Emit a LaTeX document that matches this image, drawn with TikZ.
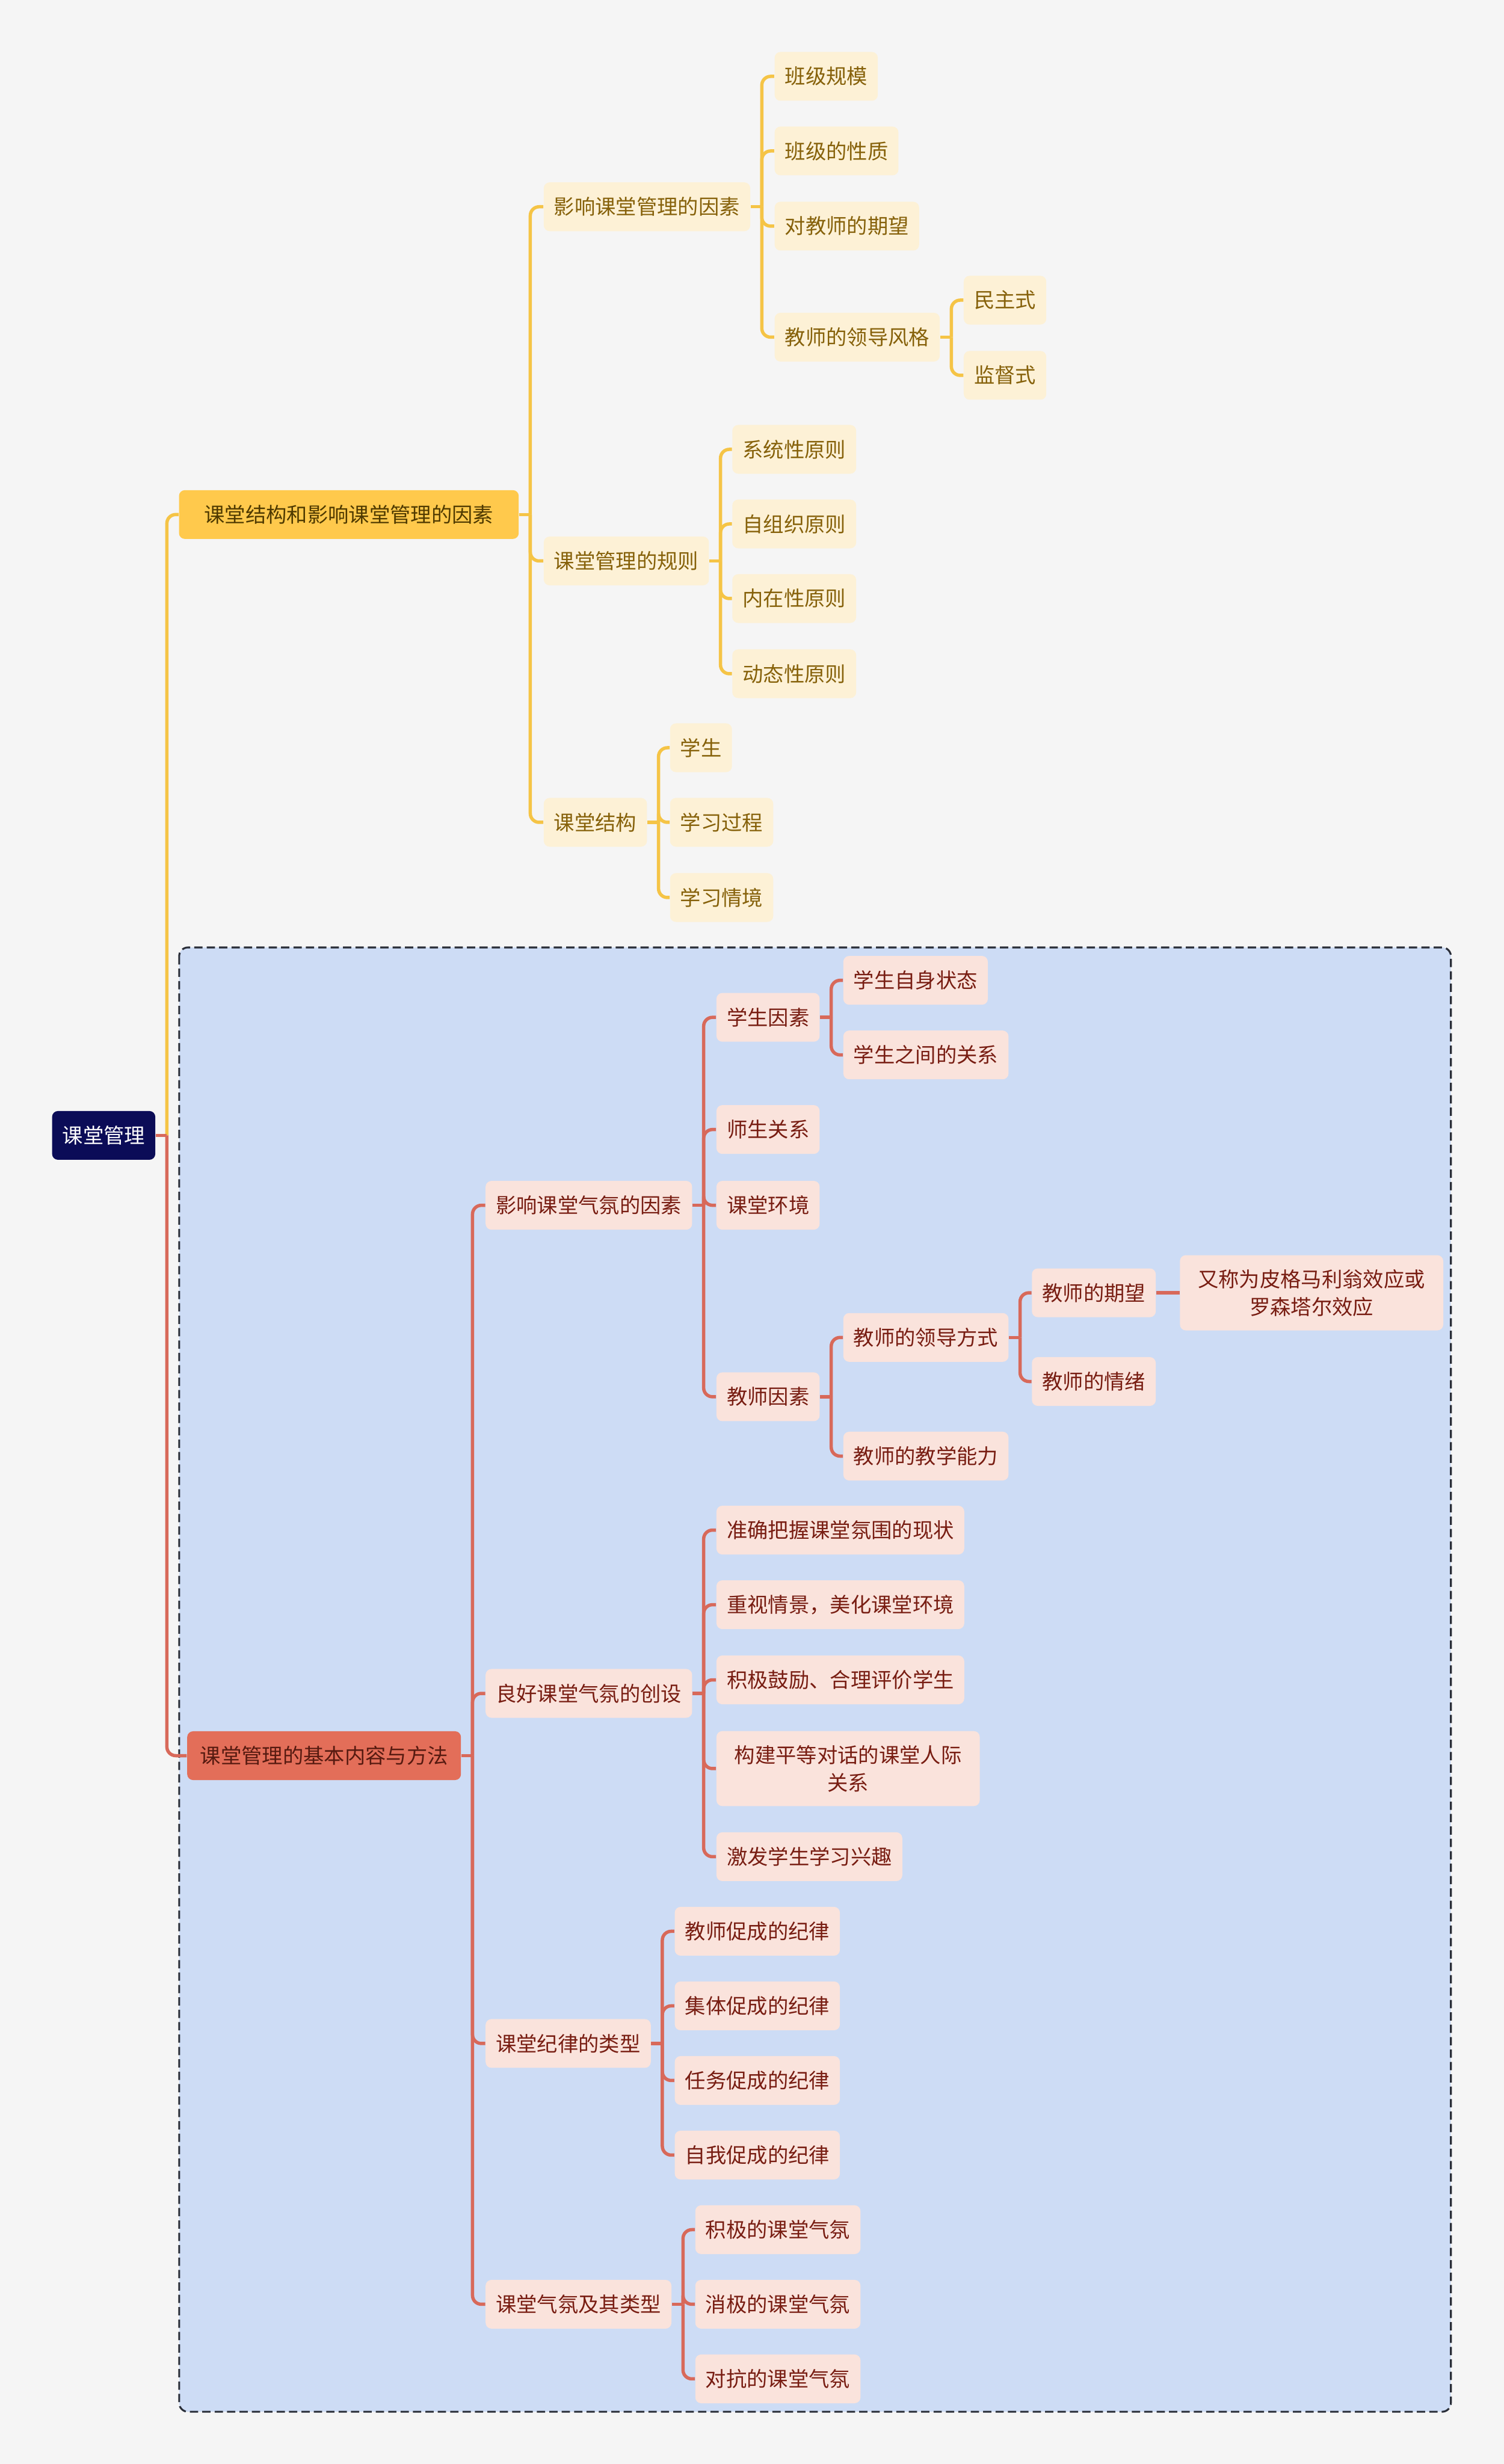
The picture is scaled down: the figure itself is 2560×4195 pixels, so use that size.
\documentclass[tikz,border=0pt]{standalone}
\usepackage{fontspec}
\setmainfont{Noto Sans CJK SC}
\usetikzlibrary{calc}
\definecolor{pagebg}{HTML}{F5F5F5}
\definecolor{navy}{HTML}{0B0C57}
\definecolor{ygold}{HTML}{FFC94C}
\definecolor{ydark}{HTML}{4F3A00}
\definecolor{ycream}{HTML}{FDF1D6}
\definecolor{ytext}{HTML}{86610A}
\definecolor{yline}{HTML}{F5C446}
\definecolor{rsalmon}{HTML}{E36E59}
\definecolor{rdark}{HTML}{561A10}
\definecolor{rpink}{HTML}{FAE3DC}
\definecolor{rtext}{HTML}{781D12}
\definecolor{rline}{HTML}{D8695A}
\definecolor{bluebg}{HTML}{CDDCF5}
\definecolor{dashc}{HTML}{2A2E38}
\tikzset{
  base/.style={rounded corners=0.1cm, anchor=west, inner xsep=0.175cm, inner ysep=0.24cm,
    minimum height=0.83cm, font=\fontsize{10}{13.4}\selectfont},
  rootbox/.style={base, fill=navy, text=white},
  ytop/.style={base, fill=ygold, text=ydark, inner xsep=0.43cm},
  ybox/.style={base, fill=ycream, text=ytext},
  rtop/.style={base, fill=rsalmon, text=rdark, inner xsep=0.22cm},
  rbox/.style={base, fill=rpink, text=rtext},
  wrapbox/.style={rbox, align=center, minimum width=4.48cm},
  ylink/.style={draw=yline, line width=1.6pt},
  rlink/.style={draw=rline, line width=1.6pt},
  zone/.style={draw=dashc, fill=bluebg, dash pattern=on 4pt off 2pt, line width=0.9pt, rounded corners=0.15cm},
}
\newcommand\branchout[3]{%
  \draw[#1] (#2.east) -- ++(19,0);
  \foreach \c in {#3} \draw[#1, rounded corners=0.15cm] ($(#2.east)+(19,0)$) |- (\c.west);
}

\begin{document}
\begin{tikzpicture}[x=0.01cm, y=-0.01cm]
    \fill[pagebg] (0,0) rectangle (2560,4195);
    \useasboundingbox (0,0) rectangle (2560,4195);
    \draw[zone] (305,1613) rectangle (2470,4106);

    \node[rootbox] (root) at (88,1933) {课堂管理};
    \node[ytop] (ya) at (304,876) {课堂结构和影响课堂管理的因素};
    \node[rtop] (ra) at (318,2989) {课堂管理的基本内容与方法};

    \node[ybox] (yf) at (925,352) {影响课堂管理的因素};
    \node[ybox] (yr) at (925,955) {课堂管理的规则};
    \node[ybox] (ys) at (925,1400) {课堂结构};
    \foreach \y/\n/\t in {130/yf1/班级规模, 257/yf2/班级的性质, 385/yf3/对教师的期望, 574/yf4/教师的领导风格}
      \node[ybox] (\n) at (1318,\y) {\t};
    \foreach \y/\n/\t in {511/ym1/民主式, 639/ym2/监督式}
      \node[ybox] (\n) at (1640,\y) {\t};
    \foreach \y/\n/\t in {765/yr1/系统性原则, 892/yr2/自组织原则, 1019/yr3/内在性原则, 1147/yr4/动态性原则}
      \node[ybox] (\n) at (1246,\y) {\t};
    \foreach \y/\n/\t in {1273/ys1/学生, 1400/ys2/学习过程, 1528/ys3/学习情境}
      \node[ybox] (\n) at (1140,\y) {\t};

    \node[rbox] (rf) at (826,2052) {影响课堂气氛的因素};
    \node[rbox] (rc) at (826,2883) {良好课堂气氛的创设};
    \node[rbox] (rd) at (826,3479) {课堂纪律的类型};
    \node[rbox] (rq) at (826,3923) {课堂气氛及其类型};
    \foreach \y/\n/\t in {1732/rf1/学生因素, 1923/rf2/师生关系, 2052/rf3/课堂环境, 2378/rf4/教师因素}
      \node[rbox] (\n) at (1219,\y) {\t};
    \foreach \y/\n/\t in {1669/rs1/学生自身状态, 1796/rs2/学生之间的关系}
      \node[rbox] (\n) at (1435,\y) {\t};
    \foreach \y/\n/\t in {2277/rt1/教师的领导方式, 2479/rt2/教师的教学能力}
      \node[rbox] (\n) at (1435,\y) {\t};
    \foreach \y/\n/\t in {2201/rl1/教师的期望, 2352/rl2/教师的情绪}
      \node[rbox] (\n) at (1756,\y) {\t};
    \node[wrapbox] (rp) at (2008,2201) {又称为皮格马利翁效应或\\罗森塔尔效应};
    \foreach \y/\n/\t in {2605/rc1/准确把握课堂氛围的现状, 2732/rc2/{重视情景，美化课堂环境}, 2860/rc3/积极鼓励、合理评价学生, 3161/rc5/激发学生学习兴趣}
      \node[rbox] (\n) at (1219,\y) {\t};
    \node[wrapbox] (rc4) at (1219,3011) {构建平等对话的课堂人际\\关系};
    \foreach \y/\n/\t in {3288/rd1/教师促成的纪律, 3415/rd2/集体促成的纪律, 3542/rd3/任务促成的纪律, 3669/rd4/自我促成的纪律}
      \node[rbox] (\n) at (1148,\y) {\t};
    \foreach \y/\n/\t in {3796/rq1/积极的课堂气氛, 3923/rq2/消极的课堂气氛, 4050/rq3/对抗的课堂气氛}
      \node[rbox] (\n) at (1183,\y) {\t};

    \branchout{ylink}{root}{ya}
    \branchout{rlink}{root}{ra}
    \branchout{ylink}{ya}{yf,yr,ys}
    \branchout{ylink}{yf}{yf1,yf2,yf3,yf4}
    \branchout{ylink}{yf4}{ym1,ym2}
    \branchout{ylink}{yr}{yr1,yr2,yr3,yr4}
    \branchout{ylink}{ys}{ys1,ys2,ys3}
    \branchout{rlink}{ra}{rf,rc,rd,rq}
    \branchout{rlink}{rf}{rf1,rf2,rf3,rf4}
    \branchout{rlink}{rf1}{rs1,rs2}
    \branchout{rlink}{rf4}{rt1,rt2}
    \branchout{rlink}{rt1}{rl1,rl2}
    \draw[rlink] (rl1.east) -- (rp.west);
    \branchout{rlink}{rc}{rc1,rc2,rc3,rc4,rc5}
    \branchout{rlink}{rd}{rd1,rd2,rd3,rd4}
    \branchout{rlink}{rq}{rq1,rq2,rq3}
  \end{tikzpicture}
\end{document}
